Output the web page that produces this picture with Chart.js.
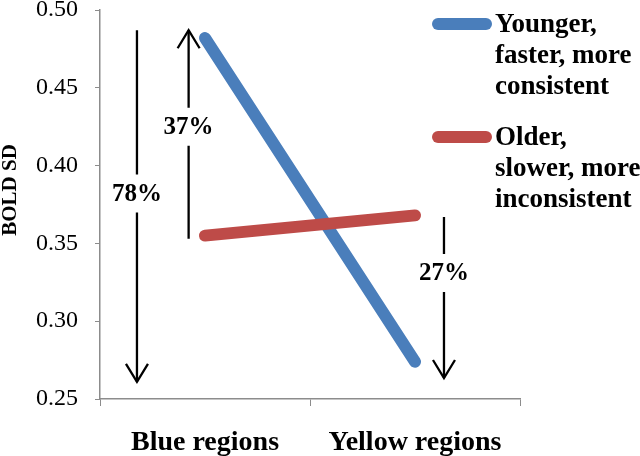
<!DOCTYPE html>
<html>
<head>
<meta charset="utf-8">
<script src="https://cdn.jsdelivr.net/npm/chart.js@4/dist/chart.umd.min.js"></script>
<style>
html,body{margin:0;padding:0;background:#fff;}
#wrap{width:640px;height:456px;position:relative;}
</style>
</head>
<body>
<div id="wrap"><canvas id="c" width="640" height="456"></canvas></div>
<script>
// ---- data ----
const categories = ['Blue regions', 'Yellow regions'];
const youngerLabel = ['Younger,', 'faster, more', 'consistent'];
const olderLabel = ['Older,', 'slower, more', 'inconsistent'];
const youngerValues = [0.482, 0.274];
const olderValues = [0.355, 0.368];
const yAxisTitle = 'BOLD SD';
const yMin = 0.25, yMax = 0.50, yStep = 0.05;
// change arrows (x as category position, y in BOLD SD units)
const arrowLabels = ['78%', '37%', '27%'];
const arrowX = [-0.324, -0.078, 1.138];
const arrowFrom = [0.487, 0.353, 0.367];
const arrowTo = [0.261, 0.487, 0.2635];
const arrowTextY = [0.382, 0.425, 0.331];

const SERIF = '"Liberation Serif", "Times New Roman", serif';
const BLUE = '#4A7EBB';
const RED = '#BE4B48';
const AXIS = '#8C8C8C';

const overlay = {
  id: 'overlay',
  afterDatasetsDraw(chart) {
    const ctx = chart.ctx;
    const xs = chart.scales.x, ys = chart.scales.y;
    ctx.save();
    // arrows
    ctx.strokeStyle = '#000';
    ctx.fillStyle = '#000';
    ctx.lineWidth = 2.3;
    ctx.font = 'bold 25px ' + SERIF;
    ctx.textAlign = 'center';
    ctx.textBaseline = 'middle';
    for (let i = 0; i < arrowLabels.length; i++) {
      const x = xs.getPixelForValue(arrowX[i]);
      const y0 = ys.getPixelForValue(arrowFrom[i]);
      const y1 = ys.getPixelForValue(arrowTo[i]);
      const yt = ys.getPixelForValue(arrowTextY[i]);
      const gap = 19;
      const top = Math.min(y0, y1), bot = Math.max(y0, y1);
      ctx.beginPath();
      ctx.moveTo(x, top); ctx.lineTo(x, yt - gap);
      ctx.moveTo(x, yt + gap); ctx.lineTo(x, bot);
      ctx.stroke();
      const dir = y1 > y0 ? -1 : 1;
      ctx.beginPath();
      ctx.moveTo(x - 11, y1 + dir * 18);
      ctx.lineTo(x, y1);
      ctx.lineTo(x + 11, y1 + dir * 18);
      ctx.stroke();
      ctx.fillText(arrowLabels[i], x, yt + 1);
    }
    // legend
    const items = [
      {color: chart.data.datasets[0].borderColor, lines: youngerLabel, y: 24},
      {color: chart.data.datasets[1].borderColor, lines: olderLabel, y: 137}
    ];
    ctx.font = 'bold 27px ' + SERIF;
    ctx.textAlign = 'left';
    ctx.lineCap = 'round';
    items.forEach(it => {
      ctx.strokeStyle = it.color;
      ctx.lineWidth = 12;
      ctx.beginPath();
      ctx.moveTo(438, it.y); ctx.lineTo(486, it.y);
      ctx.stroke();
      it.lines.forEach((t, k) => ctx.fillText(t, 495, it.y + 1 + k * 31));
    });
    // y title
    ctx.translate(11, 190);
    ctx.rotate(-Math.PI / 2);
    ctx.font = 'bold 21px ' + SERIF;
    ctx.textAlign = 'center';
    ctx.fillText(yAxisTitle, 0, 0);
    ctx.restore();
  }
};

new Chart(document.getElementById('c'), {
  type: 'line',
  data: {
    labels: categories,
    datasets: [
      {label: youngerLabel.join(' '), data: youngerValues, borderColor: BLUE, backgroundColor: BLUE,
       borderWidth: 12, borderCapStyle: 'round', pointRadius: 0, tension: 0, order: 2},
      {label: olderLabel.join(' '), data: olderValues, borderColor: RED, backgroundColor: RED,
       borderWidth: 12, borderCapStyle: 'round', pointRadius: 0, tension: 0, order: 1}
    ]
  },
  options: {
    responsive: false,
    animation: false,
    devicePixelRatio: 1,
    layout: {padding: {top: 10, right: 120, bottom: 0, left: 0}},
    plugins: {legend: {display: false}, tooltip: {enabled: false}, title: {display: false}},
    scales: {
      x: {
        offset: true,
        grid: {display: true, offset: true, drawOnChartArea: false, drawTicks: true, tickLength: 7, color: AXIS},
        border: {color: AXIS, width: 1.5},
        ticks: {color: '#000', font: {family: SERIF, size: 28, weight: 'bold', lineHeight: 1}, padding: 23, maxRotation: 0},
        afterFit: s => { s.height = 57; s.paddingLeft = 0; s.paddingRight = 0; }
      },
      y: {
        min: yMin, max: yMax,
        grid: {display: true, drawOnChartArea: false, drawTicks: true, tickLength: 5, color: AXIS},
        border: {color: AXIS, width: 1.5},
        ticks: {stepSize: yStep, color: '#000', font: {family: SERIF, size: 24, lineHeight: 0.8}, padding: 17,
                callback: v => v.toFixed(2)},
        afterFit: s => { s.width = 100; s.paddingTop = 0; s.paddingBottom = 0; }
      }
    }
  },
  plugins: [overlay]
});
</script>
</body>
</html>
